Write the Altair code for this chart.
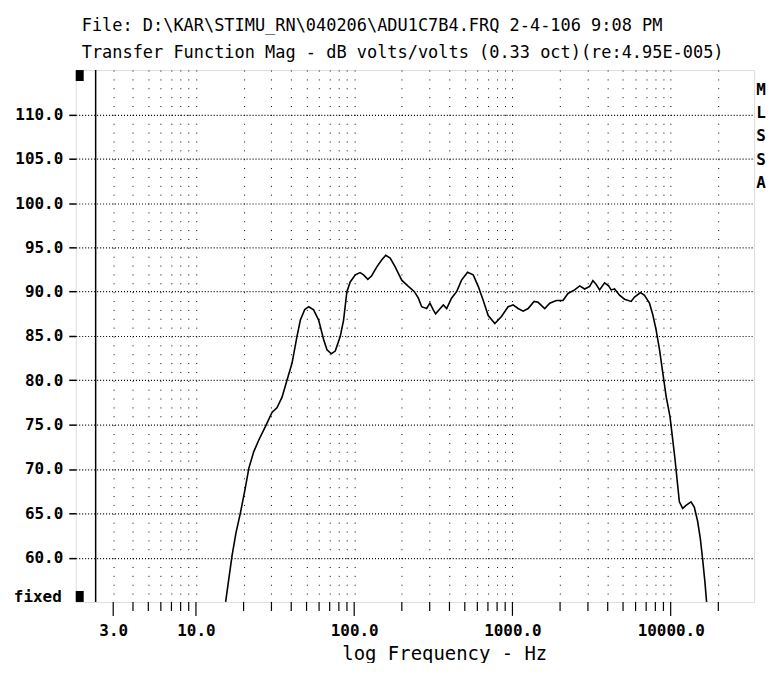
import altair as alt
import pandas as pd

# ---- data ----
freq_hz = [15.4, 16.1, 16.9, 17.9, 19.1, 20.4, 21.6, 23.2, 25.0, 27.5, 30.3, 32.5, 35.0, 37.6,
           40.5, 43.5, 45.7, 48.7, 51.6, 55.4, 59.6, 64.1, 67.3, 71.7, 75.9, 81.6, 85.7, 89.9,
           94.4, 101.6, 109, 114.6, 122, 129, 139, 149.5, 158.4, 168.8, 181.5, 199.7, 220, 240,
           254, 267, 287, 301, 316, 327, 344, 366, 384, 413, 444, 477, 520, 565, 608, 654, 703,
           774, 852, 939, 1010, 1086, 1168, 1256, 1370, 1453, 1600, 1720, 1894, 2086, 2244, 2473,
           2660, 2860, 3075, 3225, 3385, 3555, 3822, 4050, 4207, 4420, 4750, 5110, 5625, 5910,
           6445, 6830, 7345, 7710, 8090, 8500, 8920, 9360, 9900, 10300, 10650, 10960, 11350,
           11910, 12500, 13440, 14100, 14800, 15380, 15900, 16450, 16860]
mag_db = [55.0, 57.5, 60.2, 62.8, 65.05, 67.65, 70.1, 71.96, 73.3, 74.8, 76.4, 76.9, 78.1, 80.0,
          81.95, 84.95, 86.8, 88.0, 88.3, 87.95, 86.8, 84.6, 83.45, 83.0, 83.3, 84.95, 86.8, 90.0,
          91.1, 91.9, 92.15, 91.9, 91.4, 91.8, 92.8, 93.6, 94.1, 93.8, 92.8, 91.3, 90.6, 90.0,
          89.3, 88.3, 88.1, 88.7, 87.95, 87.5, 87.95, 88.5, 88.1, 89.3, 90.0, 91.3, 92.2, 91.9,
          90.6, 89.0, 87.3, 86.4, 87.2, 88.3, 88.5, 88.1, 87.8, 88.1, 88.9, 88.8, 88.1, 88.7,
          89.0, 89.0, 89.8, 90.2, 90.65, 90.3, 90.6, 91.25, 90.8, 90.2, 91.0, 90.65, 90.2, 90.3,
          89.6, 89.15, 88.9, 89.4, 89.9, 89.6, 88.7, 87.4, 85.7, 83.45, 80.8, 78.2, 75.9, 73.3,
          71.1, 68.9, 66.3, 65.55, 65.9, 66.3, 65.7, 64.1, 62.2, 59.9, 57.3, 55.0]

grid_freqs = [3, 4, 5, 6, 7, 8, 9,
              10, 20, 30, 40, 50, 60, 70, 80, 90,
              100, 200, 300, 400, 500, 600, 700, 800, 900,
              1000, 2000, 3000, 4000, 5000, 6000, 7000, 8000, 9000,
              10000, 20000]
major_freqs = [3, 10, 100, 1000, 10000]
minor_freqs = [f for f in grid_freqs if f not in major_freqs]
db_ticks = [60, 65, 70, 75, 80, 85, 90, 95, 100, 105, 110]
title_lines = ["File: D:\\KAR\\STIMU_RN\\040206\\ADU1C7B4.FRQ 2-4-106 9:08 PM",
               "Transfer Function Mag - dB volts/volts (0.33 oct)(re:4.95E-005)"]
side_letters = ["M", "L", "S", "S", "A"]
x_title = "log Frequency - Hz"
bottom_label = "fixed"

# ---- layout ----
W, H = 681, 534
X_DOMAIN = [1.739, 33640]
Y_DOMAIN = [55, 115]
MONO = "DejaVu Sans Mono"

curve_df = pd.DataFrame({"freq": freq_hz, "db": mag_db})
minor_df = pd.DataFrame({"freq": minor_freqs})
major_df = pd.DataFrame({"freq": major_freqs})
one = pd.DataFrame({"a": [0]})

xscale = alt.Scale(type="log", domain=X_DOMAIN, nice=False)
yscale = alt.Scale(domain=Y_DOMAIN, nice=False, zero=False)

label_expr = ("indexof([3,10,100,1000,10000], datum.value) >= 0 ? "
              "format(datum.value, '.1f') : ''")

x_axis = alt.Axis(values=grid_freqs, grid=True, gridDash=[1, 7.9], gridColor="black",
                  gridOpacity=1, gridWidth=1, ticks=False, tickSize=0, domain=False,
                  labelExpr=label_expr, labelFont=MONO, labelFontSize=16,
                  labelFontWeight="bold", labelColor="black", labelPadding=21,
                  labelFlush=False, labelOverlap=False, labelBound=False,
                  title=x_title, titleFont=MONO, titleFontSize=19, titleFontWeight="normal",
                  titleColor="black", titleX=370, titleY=52, titleBaseline="middle",
                  titleAlign="center", titleAnchor="start")
y_axis = alt.Axis(values=db_ticks, grid=True, gridDash=[1, 2], gridColor="black",
                  gridOpacity=1, gridWidth=1.2, tickSize=7, tickColor="black", tickWidth=1.5,
                  domain=False, format=".1f", labelFont=MONO, labelFontSize=16,
                  labelFontWeight="bold", labelColor="black", labelPadding=6, title=None)

X_ENC = alt.X("freq:Q", scale=xscale, axis=x_axis, title=x_title)

curve = alt.Chart(curve_df).mark_line(color="black", strokeWidth=1.6).encode(
    x=X_ENC,
    y=alt.Y("db:Q", scale=yscale, axis=y_axis),
)

minor_ticks = alt.Chart(minor_df).mark_rule(color="black", strokeWidth=1.2).encode(
    x=X_ENC, y=alt.value(H), y2=alt.value(H + 9),
)
major_ticks = alt.Chart(major_df).mark_rule(color="black", strokeWidth=1.2).encode(
    x=X_ENC, y=alt.value(H), y2=alt.value(H + 14),
)

inner_line = alt.Chart(one).mark_rule(color="black", strokeWidth=1.5).encode(
    x=alt.value(20), y=alt.value(0), y2=alt.value(H))

top_box = alt.Chart(one).mark_rect(color="black").encode(
    x=alt.value(0), x2=alt.value(8), y=alt.value(0), y2=alt.value(11))
bottom_box = alt.Chart(one).mark_rect(color="black").encode(
    x=alt.value(0), x2=alt.value(8), y=alt.value(H - 11), y2=alt.value(H))

fixed_text = alt.Chart(one).mark_text(
    text=bottom_label, font=MONO, fontSize=16, fontWeight="bold", color="black",
    align="right", baseline="alphabetic").encode(x=alt.value(-14), y=alt.value(H))

letters = alt.Chart(one).mark_text(
    text=side_letters, font=MONO, fontSize=16, fontWeight="bold", color="black",
    align="center", baseline="alphabetic", lineHeight=23.3).encode(
    x=alt.value(W + 7), y=alt.value(25))

chart = alt.layer(
    curve, minor_ticks, major_ticks, inner_line, top_box, bottom_box, fixed_text, letters
).properties(
    width=W, height=H,
    title=alt.TitleParams(text=title_lines, anchor="start", frame="group", dx=6, offset=7,
                          font=MONO, fontSize=17, fontWeight="normal", color="black",
                          lineHeight=27),
    autosize=alt.AutoSizeParams(type="none"),
    padding={"left": 68, "top": 61, "right": 13, "bottom": 60},
).configure_view(stroke="black", strokeWidth=1.5).configure(background="white")

chart.save("out.html", embed_options={"renderer": "svg", "actions": False})
